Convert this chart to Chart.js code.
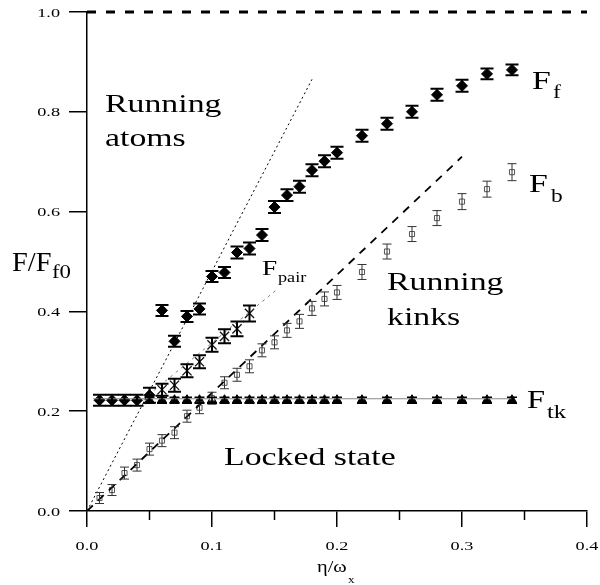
<!DOCTYPE html>
<html>
<head>
<meta charset="utf-8">
<script src="https://cdn.jsdelivr.net/npm/chart.js@4.4.1/dist/chart.umd.min.js"></script>
<style>
  html, body { margin: 0; padding: 0; background: #fff; }
</style>
</head>
<body>
<canvas id="fricChart" width="600" height="585"></canvas>
<script>
// F_f : filled diamonds
var ffX = [0.01, 0.02, 0.03, 0.04, 0.05, 0.06, 0.07, 0.08, 0.09, 0.10, 0.11, 0.12, 0.13, 0.14, 0.15, 0.16, 0.17, 0.18, 0.19, 0.20, 0.22, 0.24, 0.26, 0.28, 0.30, 0.32, 0.34];
var ffY = [0.222, 0.222, 0.222, 0.222, 0.232, 0.402, 0.340, 0.390, 0.405, 0.470, 0.478, 0.518, 0.526, 0.553, 0.609, 0.633, 0.650, 0.683, 0.701, 0.718, 0.752, 0.776, 0.800, 0.834, 0.852, 0.876, 0.884];
var ffErr = [0.011, 0.011, 0.011, 0.011, 0.015, 0.011, 0.011, 0.011, 0.011, 0.011, 0.011, 0.012, 0.012, 0.012, 0.012, 0.012, 0.012, 0.012, 0.012, 0.012, 0.012, 0.012, 0.012, 0.012, 0.012, 0.011, 0.011];

// F_b : open squares
var fbX = [0.01, 0.02, 0.03, 0.04, 0.05, 0.06, 0.07, 0.08, 0.09, 0.10, 0.11, 0.12, 0.13, 0.14, 0.15, 0.16, 0.17, 0.18, 0.19, 0.20, 0.22, 0.24, 0.26, 0.28, 0.30, 0.32, 0.34];
var fbY = [0.026, 0.042, 0.076, 0.092, 0.124, 0.141, 0.157, 0.190, 0.207, 0.226, 0.257, 0.273, 0.290, 0.322, 0.338, 0.362, 0.380, 0.406, 0.425, 0.438, 0.479, 0.520, 0.555, 0.587, 0.620, 0.645, 0.679];
var fbErr = [0.011, 0.011, 0.012, 0.012, 0.012, 0.012, 0.012, 0.012, 0.012, 0.012, 0.012, 0.013, 0.013, 0.013, 0.013, 0.014, 0.014, 0.014, 0.014, 0.014, 0.015, 0.015, 0.015, 0.015, 0.016, 0.016, 0.017];

// F_pair : crosses
var fpX = [0.06, 0.07, 0.08, 0.09, 0.10, 0.11, 0.12, 0.13];
var fpY = [0.243, 0.252, 0.281, 0.299, 0.333, 0.350, 0.365, 0.396];
var fpErr = [0.012, 0.013, 0.013, 0.013, 0.014, 0.014, 0.015, 0.016];

// F_tk : triangles
var ftX = [0.05, 0.06, 0.07, 0.08, 0.09, 0.10, 0.11, 0.12, 0.13, 0.14, 0.15, 0.16, 0.17, 0.18, 0.19, 0.20, 0.22, 0.24, 0.26, 0.28, 0.30, 0.32, 0.34];
var ftY = [0.222, 0.222, 0.222, 0.222, 0.222, 0.222, 0.222, 0.222, 0.222, 0.222, 0.222, 0.222, 0.222, 0.222, 0.222, 0.222, 0.222, 0.222, 0.222, 0.222, 0.222, 0.222, 0.222];
var ftErr = [0.006, 0.006, 0.006, 0.006, 0.006, 0.006, 0.006, 0.006, 0.006, 0.006, 0.006, 0.006, 0.006, 0.006, 0.006, 0.006, 0.006, 0.006, 0.006, 0.006, 0.006, 0.006, 0.006];

// guide lines
var atomLineX = [0, 0.18],      atomLineY = [0, 0.865];
var kinkLineX = [0, 0.30],      kinkLineY = [0, 0.71];
var pairLineX = [0.045, 0.152], pairLineY = [0.224, 0.444];
var tkLineX = [0.005, 0.34],    tkLineY = [0.225, 0.225];
var topLineX = [0, 0.4],        topLineY = [1.0, 1.0];

var xTicks = [0, 0.1, 0.2, 0.3, 0.4];
var yTicks = [0, 0.2, 0.4, 0.6, 0.8, 1.0];

function pts(xs, ys) {
  return xs.map(function (x, i) { return { x: x, y: ys[i] }; });
}

var SERIF = '"Liberation Serif", "Times New Roman", serif';

// stretched serif text (the scanned figure is wider than tall)
function drawText(ctx, str, x, y, size, sx, align) {
  ctx.save();
  ctx.font = size + 'px ' + SERIF;
  ctx.textBaseline = 'alphabetic';
  ctx.textAlign = 'left';
  var w = ctx.measureText(str).width * sx;
  var left = align === 'center' ? x - w / 2 : (align === 'right' ? x - w : x);
  ctx.translate(left, y);
  ctx.scale(sx, 1);
  ctx.fillStyle = '#000';
  ctx.fillText(str, 0, 0);
  ctx.restore();
}

var errorBars = {
  id: 'errorBars',
  afterDatasetsDraw: function (chart) {
    var ctx = chart.ctx;
    var yScale = chart.scales.y;
    chart.data.datasets.forEach(function (ds, i) {
      if (!ds.errors) return;
      var meta = chart.getDatasetMeta(i);
      ctx.save();
      ctx.strokeStyle = ds.errColor;
      ctx.lineWidth = ds.errWidth;
      meta.data.forEach(function (p, j) {
        var v = ds.data[j].y;
        var top = yScale.getPixelForValue(v + ds.errors[j]);
        var bot = yScale.getPixelForValue(v - ds.errors[j]);
        ctx.beginPath();
        ctx.moveTo(p.x, top); ctx.lineTo(p.x, bot);
        ctx.moveTo(p.x - ds.capW, top); ctx.lineTo(p.x + ds.capW, top);
        ctx.moveTo(p.x - ds.capW, bot); ctx.lineTo(p.x + ds.capW, bot);
        ctx.stroke();
      });
      ctx.restore();
    });
  }
};

var axisText = {
  id: 'axisText',
  afterDraw: function (chart) {
    var ctx = chart.ctx;
    var xs = chart.scales.x, ys = chart.scales.y;

    // minor ticks on x half way between majors
    ctx.save();
    ctx.strokeStyle = '#000';
    ctx.lineWidth = 1.5;
    for (var i = 0; i < xTicks.length - 1; i++) {
      var px = xs.getPixelForValue((xTicks[i] + xTicks[i + 1]) / 2);
      ctx.beginPath();
      ctx.moveTo(px, xs.top);
      ctx.lineTo(px, xs.top + 9);
      ctx.stroke();
    }
    ctx.restore();

    xTicks.forEach(function (v) {
      drawText(ctx, v.toFixed(1), xs.getPixelForValue(v), 550, 13.5, 1.35, 'center');
    });
    yTicks.forEach(function (v) {
      drawText(ctx, v.toFixed(1), 60, ys.getPixelForValue(v) + 4.5, 13.5, 1.35, 'right');
    });

    // axis titles
    drawText(ctx, 'F/F', 12, 271, 27, 1.05, 'left');
    drawText(ctx, 'f0', 52, 278, 19, 1.2, 'left');
    drawText(ctx, 'η/ω', 317, 572, 17, 1.2, 'left');
    drawText(ctx, 'x', 348, 583, 11, 1.2, 'left');

    // region labels
    drawText(ctx, 'Running', 105, 112, 26, 1.3, 'left');
    drawText(ctx, 'atoms', 105, 146, 26, 1.3, 'left');
    drawText(ctx, 'Running', 387, 290, 26, 1.3, 'left');
    drawText(ctx, 'kinks', 387, 325, 26, 1.3, 'left');
    drawText(ctx, 'Locked state', 224, 465, 26, 1.3, 'left');

    // series labels
    drawText(ctx, 'F', 532, 89, 26, 1.3, 'left');
    drawText(ctx, 'f', 553, 98, 18, 1.3, 'left');
    drawText(ctx, 'F', 529, 192, 26, 1.3, 'left');
    drawText(ctx, 'b', 551, 202, 18, 1.3, 'left');
    drawText(ctx, 'F', 527, 408, 25, 1.3, 'left');
    drawText(ctx, 'tk', 547, 418, 19, 1.3, 'left');
    drawText(ctx, 'F', 262, 275, 21, 1.3, 'left');
    drawText(ctx, 'pair', 278, 282, 14, 1.3, 'left');
  }
};

var ctx = document.getElementById('fricChart').getContext('2d');
var fricChart = new Chart(ctx, {
  type: 'scatter',
  data: {
    datasets: [
      { // top dashed line at F = F_f0
        data: pts(topLineX, topLineY), showLine: true, pointRadius: 0,
        borderColor: '#000', borderWidth: 3, borderDash: [9, 10], clip: false
      },
      { // running atoms boundary
        data: pts(atomLineX, atomLineY), showLine: true, pointRadius: 0,
        borderColor: '#000', borderWidth: 1, borderDash: [2, 3]
      },
      { // running kinks boundary
        data: pts(kinkLineX, kinkLineY), showLine: true, pointRadius: 0,
        borderColor: '#000', borderWidth: 1.8, borderDash: [8, 7]
      },
      { // F_pair guide
        data: pts(pairLineX, pairLineY), showLine: true, pointRadius: 0,
        borderColor: '#888', borderWidth: 1, borderDash: [3, 4]
      },
      { // F_tk line
        data: pts(tkLineX, tkLineY), showLine: true, pointRadius: 0,
        borderColor: '#888', borderWidth: 1.2
      },
      {
        label: 'F_b', data: pts(fbX, fbY),
        pointStyle: 'rect', pointRadius: 3.6, borderWidth: 1,
        borderColor: '#555', backgroundColor: '#fff',
        errors: fbErr, errColor: '#333', errWidth: 1, capW: 4.5
      },
      {
        label: 'F_tk', data: pts(ftX, ftY),
        pointStyle: 'triangle', pointRadius: 5.5, borderWidth: 1,
        borderColor: '#000', backgroundColor: '#000',
        errors: ftErr, errColor: '#000', errWidth: 1.5, capW: 5
      },
      {
        label: 'F_pair', data: pts(fpX, fpY),
        pointStyle: 'crossRot', pointRadius: 6.5, borderWidth: 1.3,
        borderColor: '#111', backgroundColor: '#111',
        errors: fpErr, errColor: '#000', errWidth: 2, capW: 6.5
      },
      {
        label: 'F_f', data: pts(ffX, ffY),
        pointStyle: 'rectRot', pointRadius: 5.5, borderWidth: 1,
        borderColor: '#000', backgroundColor: '#000',
        errors: ffErr, errColor: '#000', errWidth: 2, capW: 6.5
      }
    ]
  },
  options: {
    responsive: false,
    animation: false,
    devicePixelRatio: 1,
    layout: { padding: { top: 12, right: 13, left: 0, bottom: 0 } },
    plugins: { legend: { display: false }, tooltip: { enabled: false } },
    scales: {
      x: {
        type: 'linear', min: 0, max: 0.4,
        ticks: { stepSize: 0.1, display: false },
        grid: { drawOnChartArea: false, drawTicks: true, tickLength: 16, color: '#000', lineWidth: 1.5 },
        border: { color: '#000', width: 1.5 },
        afterFit: function (s) { s.height = 74; }
      },
      y: {
        type: 'linear', min: 0, max: 1.0,
        ticks: { stepSize: 0.2, display: false },
        grid: { drawOnChartArea: false, drawTicks: true, tickLength: 18, color: '#000', lineWidth: 1.5 },
        border: { color: '#000', width: 1.5 },
        afterFit: function (s) { s.width = 87; }
      }
    }
  },
  plugins: [errorBars, axisText]
});
</script>
</body>
</html>
